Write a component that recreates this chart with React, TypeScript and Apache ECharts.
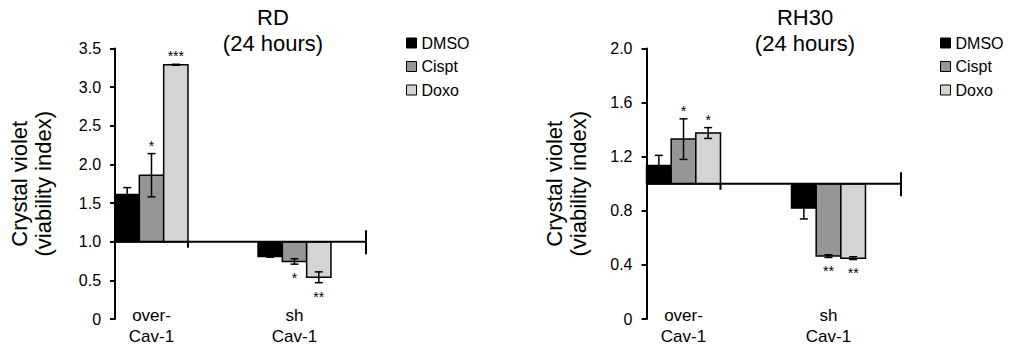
import React, { useEffect, useRef } from "react";
import * as echarts from "echarts";

// ---------- data ----------
const categories = ["over-\nCav-1", "sh\nCav-1"];
const treatments = ["DMSO", "Cispt", "Doxo"];
const treatmentColors = ["#000000", "#969696", "#d4d4d4"];

// RD (24 hours)
const rdDMSO = [1.61, 0.81];
const rdDMSOErr = [0.09, 0.01];
const rdDMSOSig = ["", ""];
const rdCispt = [1.86, 0.745];
const rdCisptErr = [0.28, 0.035];
const rdCisptSig = ["*", "*"];
const rdDoxo = [3.29, 0.54];
const rdDoxoErr = [0.006, 0.07];
const rdDoxoSig = ["***", "**"];

// RH30 (24 hours)
const rhDMSO = [1.135, 0.82];
const rhDMSOErr = [0.075, 0.08];
const rhDMSOSig = ["", ""];
const rhCispt = [1.33, 0.465];
const rhCisptErr = [0.15, 0.01];
const rhCisptSig = ["*", "**"];
const rhDoxo = [1.375, 0.45];
const rhDoxoErr = [0.04, 0.01];
const rhDoxoSig = ["*", "**"];

const rdYTicks = { min: 0, max: 3.5, interval: 0.5 };
const rhYTicks = { min: 0, max: 2.0, interval: 0.4 };
const baselineValue = 1;

// ---------- layout ----------
const FONT = "'Liberation Sans', Arial, Helvetica, sans-serif";
const BAR_FRAC = 0.17;
const GRID_TOP = 48.5;
const GRID_H = 270.5;
const grids = [
  { left: 80, width: 286, nameGap: 60, titleX: 273, legendX: 406, title: "RD\n(24 hours)" },
  { left: 611, width: 290, nameGap: 56, titleX: 805, legendX: 940, title: "RH30\n(24 hours)" },
];

const seriesSets = [
  [
    { vals: rdDMSO, err: rdDMSOErr, sig: rdDMSOSig },
    { vals: rdCispt, err: rdCisptErr, sig: rdCisptSig },
    { vals: rdDoxo, err: rdDoxoErr, sig: rdDoxoSig },
  ],
  [
    { vals: rhDMSO, err: rhDMSOErr, sig: rhDMSOSig },
    { vals: rhCispt, err: rhCisptErr, sig: rhCisptSig },
    { vals: rhDoxo, err: rhDoxoErr, sig: rhDoxoSig },
  ],
];

function barRenderer(slot: number, color: string, sig: string[]) {
  return (params: any, api: any) => {
    const cat = api.value(0);
    const v = api.value(1);
    const e = api.value(2);
    const catW = api.size([1, 0])[0];
    const barW = catW * BAR_FRAC;
    const base = api.coord([cat, baselineValue]);
    const top = api.coord([cat, v]);
    const x0 = base[0] - 1.5 * barW + slot * barW;
    const cx = x0 + barW / 2;
    const yHi = api.coord([cat, v + e])[1];
    const yLo = api.coord([cat, v - e])[1];
    const cap = 4;
    const lineStyle = { stroke: "#000", lineWidth: 1.5 };
    const children: any[] = [
      {
        type: "rect",
        shape: {
          x: x0,
          y: Math.min(base[1], top[1]),
          width: barW,
          height: Math.abs(base[1] - top[1]),
        },
        style: { fill: color, stroke: "#000", lineWidth: 1.5 },
      },
      { type: "line", shape: { x1: cx, y1: yHi, x2: cx, y2: yLo }, style: lineStyle },
      { type: "line", shape: { x1: cx - cap, y1: yHi, x2: cx + cap, y2: yHi }, style: lineStyle },
      { type: "line", shape: { x1: cx - cap, y1: yLo, x2: cx + cap, y2: yLo }, style: lineStyle },
    ];
    const s = sig[params.dataIndex];
    if (s) {
      const above = v >= baselineValue;
      children.push({
        type: "text",
        style: {
          text: s,
          x: cx,
          y: above ? yHi - 1 : yLo + 7,
          align: "center",
          verticalAlign: above ? "bottom" : "top",
          fontSize: 14,
          fontFamily: FONT,
          fill: "#000",
        },
      });
    }
    return { type: "group", children };
  };
}

function baselineRenderer(params: any, api: any) {
  const cs = params.coordSys;
  const catW = api.size([1, 0])[0];
  const barW = catW * BAR_FRAC;
  const base = api.coord([0, baselineValue]);
  const y = base[1];
  const xStart = base[0] - 1.5 * barW;
  const xMid = base[0] + 1.5 * barW;
  const xEnd = cs.x + cs.width;
  const st = { stroke: "#000", lineWidth: 2 };
  return {
    type: "group",
    children: [
      { type: "line", shape: { x1: xStart, y1: y, x2: xEnd, y2: y }, style: st },
      { type: "line", shape: { x1: xMid, y1: y, x2: xMid, y2: y + 6 }, style: st },
      { type: "line", shape: { x1: xEnd, y1: y - 11.5, x2: xEnd, y2: y + 12.5 }, style: st },
    ],
  };
}

export default function App() {
  const ref = useRef<HTMLDivElement>(null);
  useEffect(() => {
    if (!ref.current) return;
    const chart = echarts.init(ref.current, undefined, { renderer: "svg" });

    const ticks = [rdYTicks, rhYTicks];
    const option: any = {
      animation: false,
      textStyle: { fontFamily: FONT },
      title: grids.map((g) => ({
        text: g.title,
        left: g.titleX,
        top: 4,
        textAlign: "center",
        padding: 0,
        textStyle: { fontSize: 22, fontWeight: "normal", color: "#000", lineHeight: 26, fontFamily: FONT },
      })),
      legend: grids.map((g) => ({
        orient: "vertical",
        left: g.legendX,
        top: 35,
        padding: 0,
        itemWidth: 10,
        itemHeight: 10,
        itemGap: 7.5,
        selectedMode: false,
        textStyle: { fontSize: 16, color: "#000", lineHeight: 16, fontFamily: FONT },
        data: treatments.map((n, i) => ({
          name: n,
          icon: "rect",
          itemStyle: { color: treatmentColors[i], borderColor: "#000", borderWidth: 1 },
        })),
      })),
      grid: grids.map((g) => ({ left: g.left, width: g.width, top: GRID_TOP, height: GRID_H })),
      xAxis: grids.map((g, gi) => ({
        type: "category",
        gridIndex: gi,
        data: categories,
        axisLine: { show: false },
        axisTick: { show: false },
        splitLine: { show: false },
        axisLabel: {
          fontSize: 17,
          lineHeight: 21,
          color: "#000",
          margin: -14.5,
          fontFamily: FONT,
        },
      })),
      yAxis: grids.map((g, gi) => {
        const catW = g.width / categories.length;
        const off = -(catW / 2 - 1.5 * catW * BAR_FRAC);
        return {
          type: "value",
          gridIndex: gi,
          min: ticks[gi].min,
          max: ticks[gi].max,
          interval: ticks[gi].interval,
          offset: off,
          name: "Crystal violet\n(viability index)",
          nameLocation: "middle",
          nameGap: g.nameGap,
          nameTextStyle: { fontSize: 22, lineHeight: 24, color: "#000", fontFamily: FONT },
          axisLine: { show: true, lineStyle: { color: "#000", width: 2 } },
          axisTick: { show: true, length: 5, lineStyle: { color: "#000", width: 2 } },
          splitLine: { show: false },
          axisLabel: {
            fontSize: 16,
            color: "#000",
            margin: 14,
            fontFamily: FONT,
            formatter: (v: number) => (v === 0 ? "0" : v.toFixed(1)),
          },
        };
      }),
      series: [] as any[],
    };

    seriesSets.forEach((set, gi) => {
      set.forEach((s, si) => {
        option.series.push({
          type: "custom",
          name: treatments[si],
          xAxisIndex: gi,
          yAxisIndex: gi,
          itemStyle: { color: treatmentColors[si] },
          encode: { x: 0, y: 1 },
          data: s.vals.map((v, ci) => [ci, v, s.err[ci]]),
          renderItem: barRenderer(si, treatmentColors[si], s.sig),
          z: 2,
        });
      });
      option.series.push({
        type: "custom",
        name: "baseline" + gi,
        xAxisIndex: gi,
        yAxisIndex: gi,
        encode: { x: 0, y: 1 },
        data: [[0, baselineValue]],
        renderItem: baselineRenderer,
        silent: true,
        z: 3,
      });
    });

    chart.setOption(option);
    return () => chart.dispose();
  }, []);

  return (
    <div
      ref={ref}
      style={{ position: "absolute", left: 0, top: 0, width: 1009, height: 348, background: "#fff" }}
    />
  );
}
